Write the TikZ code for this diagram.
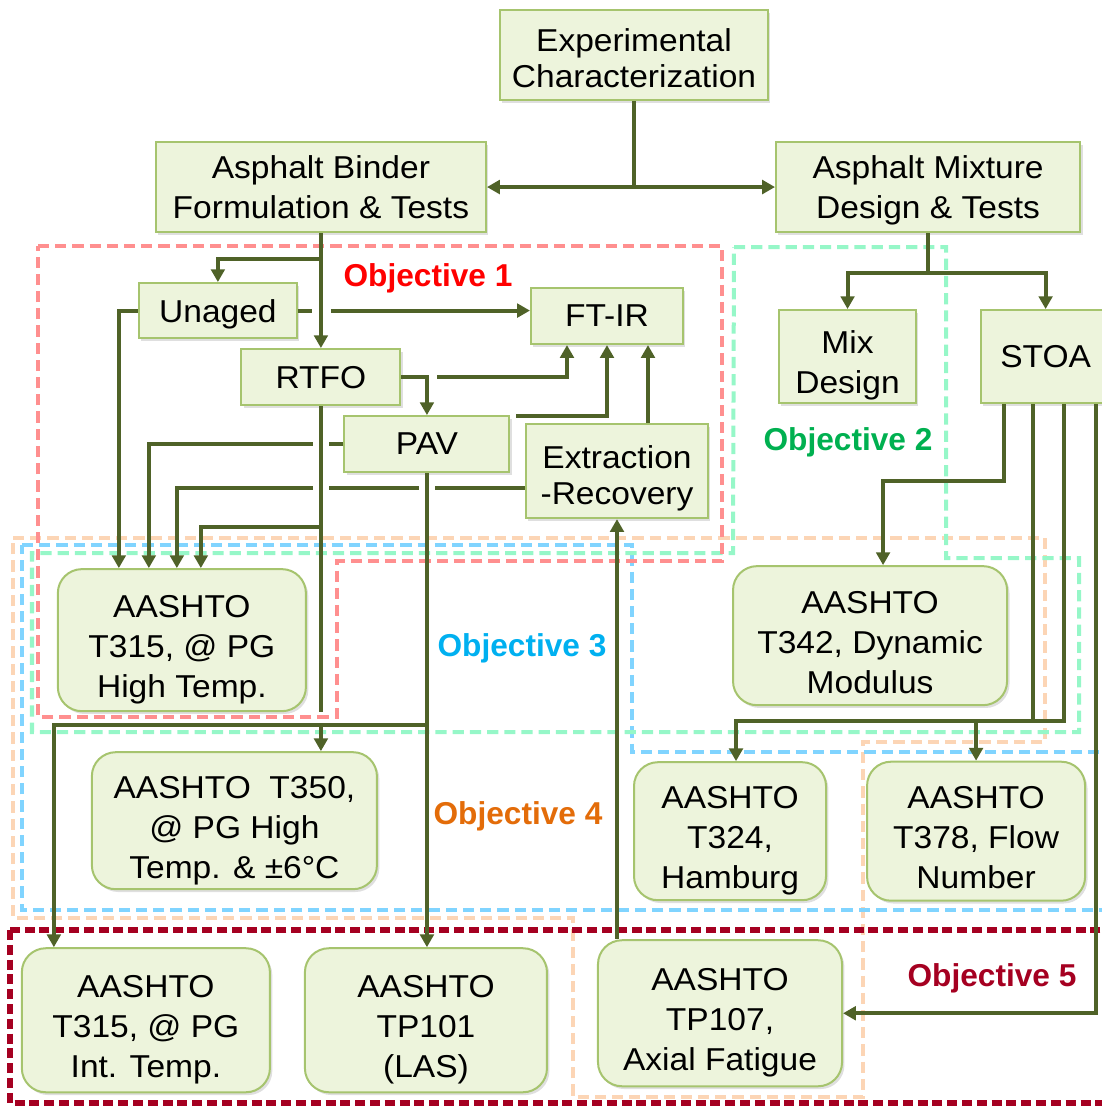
\documentclass[tikz,border=0pt]{standalone}
\usepackage{fontspec}
\setmainfont{Liberation Sans}[FakeStretch=1.06]
\newfontfamily\goalfont{Liberation Sans}
\usepackage{xcolor}
\usetikzlibrary{positioning}
\usetikzlibrary{calc}
\usetikzlibrary{arrows.meta}
\usetikzlibrary{shadows}

\definecolor{boxfill}{HTML}{EDF4DC}
\definecolor{boxline}{HTML}{A6C46E}
\definecolor{arrowgreen}{HTML}{4F6228}
\definecolor{goalone}{HTML}{FF8F8F}
\definecolor{goaltwo}{HTML}{96F7C8}
\definecolor{goalthree}{HTML}{80D4FF}
\definecolor{goalfour}{HTML}{FCD5B5}
\definecolor{goalfive}{HTML}{A50021}
\definecolor{textone}{HTML}{FF0000}
\definecolor{texttwo}{HTML}{00B050}
\definecolor{textthree}{HTML}{00B0F0}
\definecolor{textfour}{HTML}{E36C09}
\definecolor{textfive}{HTML}{A50021}

\begin{document}
\begin{tikzpicture}[x=0.025cm, y=-0.025cm, node distance=1cm, on grid,
      >={Triangle[length=0.32cm, width=0.34cm]},
      every node/.style={font=\fontsize{22.5}{28.5}\selectfont, align=center, inner sep=0pt},
      box/.style={draw=boxline, fill=boxfill, line width=0.05cm, text depth=0pt,
        drop shadow={shadow xshift=0.06cm, shadow yshift=-0.07cm, opacity=0.25}},
      test/.style={box, rounded corners=0.6cm, text height=2.875cm},
      tight/.style={font=\fontsize{22.5}{25.6}\selectfont},
      sz/.style 2 args={minimum width=#1cm, minimum height=#2cm},
      arr/.style={color=arrowgreen, line width=0.1cm},
      hv/.style={to path={-| (\tikztotarget)}},
      vh/.style={to path={|- (\tikztotarget)}},
      goal/.style={draw=#1, dash pattern=on 0.28cm off 0.15cm, line width=0.1cm},
      goaltext/.style={font=\goalfont\fontsize{22.5}{28.5}\selectfont\bfseries}]

      \useasboundingbox (0,0) rectangle (1102,1107);

      % objective regions
      \path[goal=goalfour] (13,538) -- (1045,538) -- (1045,742) -- (863,742) -- (863,1097)
        -- (573,1097) -- (573,918) -- (13,918) -- cycle;
      \path[goal=goalthree] (22,545) -- (632,545) -- (632,752) -- (1115,752) -- (1115,910)
        -- (22,910) -- cycle;
      \path[goal=goaltwo] (734,247) -- (946,247) -- (946,558) -- (1079,558) -- (1079,732)
        -- (32,732) -- (32,553) -- (733,553) -- cycle;
      \path[goal=goalone] (38,246) -- (722,246) -- (722,561) -- (337,561) -- (337,717)
        -- (38,717) -- cycle;
      \path[goal=goalfive, line width=0.14cm, dash pattern=on 0.25cm off 0.12cm]
        (10,930) rectangle (1115,1103);

      \node[goaltext, text=textone] (obj1) at (428,278) {Objective 1};
      \node[goaltext, text=texttwo] (obj2) at (848,442) {Objective 2};
      \node[goaltext, text=textthree] (obj3) at (522,648) {Objective 3};
      \node[goaltext, text=textfour] (obj4) at (518,816) {Objective 4};
      \node[goaltext, text=textfive] (obj5) at (992,978) {Objective 5};

      % steps
      \node[box, tight, text height=1.625cm, sz={6.7}{2.25}] (exp) at (634,55) {Experimental\\Characterization};
      \node[box, sz={8.25}{2.25}] (binder) [below left=3.3cm and 7.825cm of exp] {Asphalt Binder\\Formulation \& Tests};
      \node[box, sz={7.6}{2.25}] (mixture) [below right=3.3cm and 7.35cm of exp] {Asphalt Mixture\\Design \& Tests};

      \node[box, sz={3.95}{1.375}] (unaged) [below left=3.0875cm and 2.575cm of binder] {Unaged};
      \node[box, sz={3.975}{1.4}] (rtfo) [below=4.75cm of binder] {RTFO};
      \node[box, sz={3.8}{1.4}] (ftir) [below right=3.225cm and 7.15cm of binder] {FT-IR};
      \node[box, sz={4.125}{1.4}] (pav) [below right=1.675cm and 2.65cm of rtfo] {PAV};
      \node[box, tight, text height=1.675cm, sz={4.55}{2.35}] (extr) [below right=3.875cm and 0.25cm of ftir] {Extraction\\-Recovery};

      \node[box, text height=1.825cm, sz={3.425}{2.325}] (mixd) [below left=4.2375cm and 2.0125cm of mixture] {Mix\\Design};
      \node[box, sz={3.25}{2.325}] (stoa) [right=4.95cm of mixd] {STOA};

      % tests
      \node[test, sz={6.2}{3.55}] (t315h) [below left=8.2375cm and 0.9cm of unaged] {AASHTO\\T315, @ PG\\High Temp.};
      \node[test, sz={7.125}{3.425}] (t350) [below right=4.5125cm and 1.3125cm of t315h] {AASHTO\ \ T350,\\@ PG High\\Temp. \& ±6°C};
      \node[test, sz={6.85}{3.475}] (t342) [below right=6.975cm and 0.5625cm of mixd] {AASHTO\\T342, Dynamic\\Modulus};
      \node[test, sz={4.8}{3.45}] (t324) [below left=4.8875cm and 3.5cm of t342] {AASHTO\\T324,\\Hamburg};
      \node[test, sz={5.45}{3.475}] (t378) [right=6.15cm of t324] {AASHTO\\T378, Flow\\Number};
      \node[test, sz={6.2}{3.6}] (t315i) [below left=4.9875cm and 2.2125cm of t350] {AASHTO\\T315, @ PG\\Int. Temp.};
      \node[test, sz={6.05}{3.6}] (tp101) [right=7cm of t315i] {AASHTO\\TP101\\(LAS)};
      \node[test, sz={6.1}{3.65}] (tp107) [above right=0.175cm and 7.35cm of tp101] {AASHTO\\TP107,\\Axial Fatigue};

      \coordinate (in1) at ($(t315h.north west)+(62,0)$);
      \coordinate (in2) at ($(t315h.north west)+(92,0)$);
      \coordinate (in3) at ($(t315h.north west)+(120,0)$);
      \coordinate (in4) at ($(t315h.north west)+(144,0)$);
      \coordinate (in5) at ($(t315i.north)+(-92,0)$);
      \coordinate (ir1) at ($(ftir.south)+(-40,0)$);
      \coordinate (ir3) at ($(ftir.south)+(41,0)$);
      \coordinate (e0) at ($(extr.west)+(0,17)$);
      \coordinate (mx) at ($(mixture.south)+(0,40)$);

      \path[arr]
        (exp.south) edge (exp.south |- binder.east)
        (rtfo.south) edge (rtfo.south |- t315h.south)
        (mixture.south) edge (mx)
        ;

      \path[arr, ->]
        (binder.east) edge[<->] (mixture.west)
        (binder.south) edge (binder.south |- rtfo.north)
        ($(binder.south)+(0,26)$) edge[hv] (unaged.north)
        (unaged.west) edge[hv] (in1)
        ($(rtfo.south)+(0,121)$) edge[hv] (in4)
        (rtfo.east) edge[hv] (pav.north)
        ($(rtfo.east)+(36,0)$) edge[hv] (ir1)
        ($(pav.north east)+(6,1)$) edge[hv] (ftir.south)
        (ir3 |- extr.north) edge (ir3)
        (pav.south) edge (pav.south |- tp101.north)
        ($(pav.south)+(0,252)$) edge[hv] (in5)
        ($(rtfo.south)+(0,319)$) edge (rtfo.south |- t350.north)
        (extr.south |- tp107.north) edge (extr.south)
        (mx) edge[hv] (mixd.north)
        (mx) edge[hv] (stoa.north)
        ($(stoa.south)+(50,0)$) edge[vh] (tp107.east)
        ;

      % lines with a gap where they cross
      \draw[arr] (unaged.east) -- ($(unaged.east -| binder.south)+(-9,0)$);
      \draw[arr, ->] ($(unaged.east -| binder.south)+(10,0)$) -- (unaged.east -| ftir.west);
      \draw[arr] (pav.west) -- ($(pav.west -| rtfo.south)+(8,0)$);
      \draw[arr, ->] ($(pav.west -| rtfo.south)+(-8,0)$) -| (in2);
      \draw[arr] (e0) -- ($(e0 -| pav.south)+(8,0)$);
      \draw[arr] ($(e0 -| pav.south)+(-8,0)$) -- ($(e0 -| rtfo.south)+(8,0)$);
      \draw[arr, ->] ($(e0 -| rtfo.south)+(-8,0)$) -| (in3);

      % mixture tests
      \draw[arr, ->] ($(stoa.south)+(-42,0)$) -- ++(0,77) -| ($(t342.north)+(13,0)$);
      \draw[arr] ($(stoa.south)+(-13,0)$) -- ++(0,319);
      \draw[arr, ->] ($(stoa.south)+(18,0)$) |- ($(t324.north)+(6,-40)$) coordinate (mj)
        -- ($(t324.north)+(6,0)$);
      \draw[arr, ->] (mj -| t378.north) -- (t378.north);

    \end{tikzpicture}
\end{document}
